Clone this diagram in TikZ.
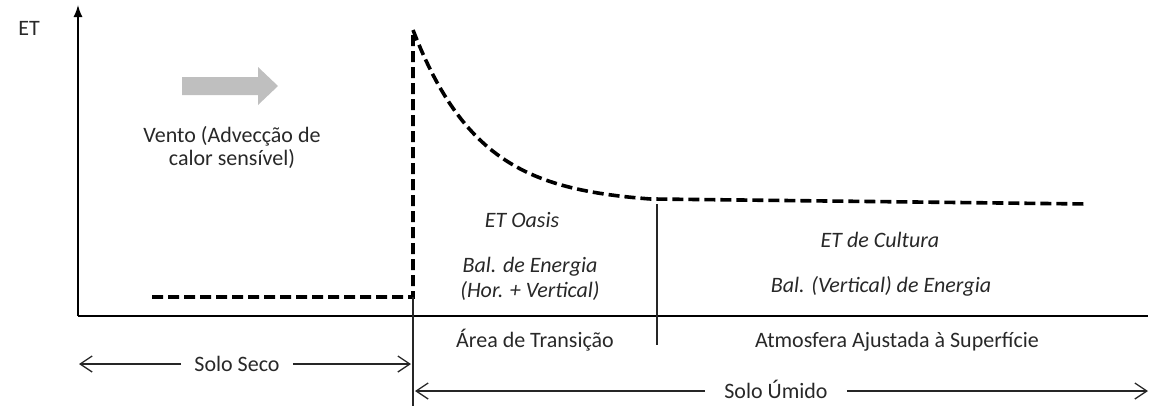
\documentclass[tikz,border=0pt]{standalone}
\usepackage{fontspec}
\setmainfont{Carlito}
\usetikzlibrary{arrows.meta}
\definecolor{windgray}{RGB}{191,191,191}
\definecolor{txt}{RGB}{40,40,40}
\begin{document}
\begin{tikzpicture}[x=1bp,y=-1bp,
  axis/.style={line width=1.5bp, black},
  thinline/.style={line width=1.1bp, black!85},
  etcurve/.style={line width=3.6bp, dash pattern=on 11bp off 5bp, black},
  dimtip/.style={line width=1.3bp, black!85, -{Straight Barb[length=12bp,width=16bp]}},
  lbl/.style={font=\fontsize{22bp}{26bp}\selectfont, text=txt, inner ysep=0pt, inner xsep=0pt, anchor=base},
  ilbl/.style={lbl, font=\fontsize{22bp}{26bp}\selectfont\itshape},
]
\useasboundingbox (0,0) rectangle (1160,415);

% axes
\coordinate (O) at (78,316);
\coordinate (ytop) at (78,5);
\coordinate (xend) at (1148,316);
\draw[axis,-{Latex[length=12bp,width=9bp]}] (O) -- (ytop);
\draw[axis] (O) -- (xend);

% dashed ET curve
\coordinate (d1) at (152,297);
\coordinate (d2) at (413,297);
\coordinate (d3) at (413,30);
\coordinate (d4) at (1088,204);
\draw[etcurve] (d1) -- (d2) -- (d3) -- plot[domain=413:650,samples=60] (\x,{204-174*exp(-(\x-413)/67)}) -- (d4);

% vertical separators
\coordinate (v1t) at (413,297);
\coordinate (v1b) at (413,406);
\coordinate (v2t) at (657,204);
\coordinate (v2b) at (657,345);
\draw[thinline] (v1t) -- (v1b);
\draw[thinline] (v2t) -- (v2b);

% wind arrow
\fill[windgray] (182,77) -- (258,77) -- (258,67) -- (278,86) -- (258,105) -- (258,95) -- (182,95) -- cycle;

% labels
\node[lbl] (et) at (29,35) {ET};
\node[lbl] (vento1) at (232,142) {Vento (Advecção de};
\node[lbl] (vento2) at (232,165) {calor sensível)};
\node[ilbl] (oasis) at (522,227) {ET Oasis};
\node[ilbl] (bal1) at (530,272) {Bal. de Energia};
\node[ilbl] (bal2) at (530,297) {(Hor. + Vertical)};
\node[ilbl] (cult) at (880,247) {ET de Cultura};
\node[ilbl] (bal3) at (881,292) {Bal. (Vertical) de Energia};
\node[lbl] (area) at (535,347) {Área de Transição};
\node[lbl] (atm) at (897,347) {Atmosfera Ajustada à Superfície};
\node[lbl, inner xsep=13bp] (seco) at (237,371) {Solo Seco};
\node[lbl, inner xsep=19bp] (umido) at (776,398) {Solo Úmido};

% dimension arrows
\coordinate (ssL) at (79,364);
\coordinate (ssR) at (411,364);
\coordinate (suL) at (415,391);
\coordinate (suR) at (1148,391);
\draw[dimtip] (seco.west |- ssL) -- (ssL);
\draw[dimtip] (seco.east |- ssR) -- (ssR);
\draw[dimtip] (umido.west |- suL) -- (suL);
\draw[dimtip] (umido.east |- suR) -- (suR);
\end{tikzpicture}
\end{document}
